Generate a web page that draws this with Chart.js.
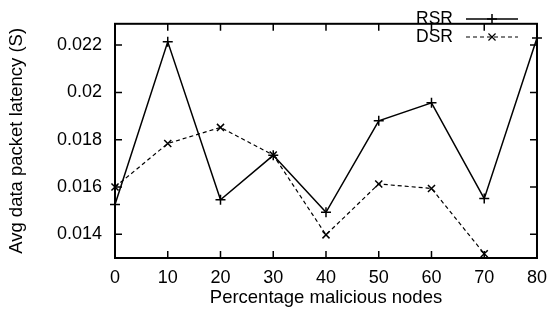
<!DOCTYPE html>
<html lang="en">
<head>
<meta charset="UTF-8">
<title>Avg data packet latency</title>
<script src="https://cdn.jsdelivr.net/npm/chart.js"></script>
<style>
    html, body { margin: 0; padding: 0; background: #fff; }
    #wrap { width: 556px; height: 320px; }
</style>
</head>
<body>
<div id="wrap"><canvas id="latencyChart" width="556" height="320"></canvas></div>
<script>
// values
const percentMalicious = [0, 10, 20, 30, 40, 50, 60, 70, 80];
const rsrLatency = [0.01526, 0.02214, 0.01546, 0.01734, 0.01493, 0.0188, 0.01956, 0.01551, 0.0223];
const dsrLatency = [0.0160, 0.01784, 0.01852, 0.01735, 0.01398, 0.01613, 0.01594, 0.01318, null];
const xTicks = [0, 10, 20, 30, 40, 50, 60, 70, 80];
const yTicks = [0.014, 0.016, 0.018, 0.02, 0.022];

const FONT = '"Liberation Sans", Arial, Helvetica, sans-serif';
Chart.defaults.font.family = FONT;
Chart.defaults.font.size = 18;
Chart.defaults.color = '#000';

function toPoints(xs, ys) {
    return xs.map((x, i) => ({ x: x, y: ys[i] }));
}

// gnuplot style frame with inward ticks on all four sides
const framePlugin = {
    id: 'frame',
    beforeDatasetsDraw(chart) {
        const { ctx, chartArea: a, scales } = chart;
        const len = 7;
        ctx.save();
        ctx.strokeStyle = '#000';
        ctx.lineWidth = 1.5;
        ctx.beginPath();
        xTicks.forEach(v => {
            const px = scales.x.getPixelForValue(v);
            ctx.moveTo(px, a.bottom); ctx.lineTo(px, a.bottom - len);
            ctx.moveTo(px, a.top); ctx.lineTo(px, a.top + len);
        });
        yTicks.forEach(v => {
            const py = scales.y.getPixelForValue(v);
            ctx.moveTo(a.left, py); ctx.lineTo(a.left + len, py);
            ctx.moveTo(a.right, py); ctx.lineTo(a.right - len, py);
        });
        ctx.stroke();
        ctx.lineWidth = 2;
        ctx.strokeRect(a.left, a.top, a.right - a.left, a.bottom - a.top);
        ctx.restore();
    }
};

// key in the top right corner: label, then line sample with marker
const keyPlugin = {
    id: 'key',
    afterDraw(chart) {
        const { ctx } = chart;
        const textRight = 453, x0 = 466, x1 = 518;
        ctx.save();
        chart.data.datasets.forEach((ds, i) => {
            const y = 19 + i * 18;
            ctx.fillStyle = '#000';
            ctx.font = '17.5px ' + FONT;
            ctx.textAlign = 'right';
            ctx.textBaseline = 'middle';
            ctx.fillText(ds.label, textRight, y);
            ctx.strokeStyle = '#000';
            ctx.lineWidth = ds.borderWidth;
            ctx.setLineDash(ds.borderDash || []);
            ctx.beginPath();
            ctx.moveTo(x0, y); ctx.lineTo(x1, y);
            ctx.stroke();
            ctx.setLineDash([]);
            Chart.helpers.drawPoint(ctx, {
                pointStyle: ds.pointStyle, radius: ds.pointRadius,
                borderWidth: ds.pointBorderWidth, rotation: 0
            }, (x0 + x1) / 2, y);
        });
        ctx.restore();
    }
};

const ctx = document.getElementById('latencyChart').getContext('2d');
new Chart(ctx, {
    type: 'line',
    data: {
        datasets: [{
            label: 'RSR',
            data: toPoints(percentMalicious, rsrLatency),
            borderColor: '#000',
            borderWidth: 1.5,
            pointStyle: 'cross',
            pointRadius: 5,
            pointBorderWidth: 1.5,
            pointBorderColor: '#000',
            tension: 0,
            clip: false
        }, {
            label: 'DSR',
            data: toPoints(percentMalicious, dsrLatency),
            borderColor: '#000',
            borderWidth: 1.2,
            borderDash: [4, 3],
            pointStyle: 'crossRot',
            pointRadius: 5,
            pointBorderWidth: 1.5,
            pointBorderColor: '#000',
            tension: 0,
            clip: false
        }]
    },
    options: {
        responsive: false,
        animation: false,
        devicePixelRatio: 1,
        layout: { padding: { top: 2, right: 16, left: 0, bottom: 0 } },
        plugins: {
            legend: { display: false },
            tooltip: { enabled: false }
        },
        scales: {
            x: {
                type: 'linear',
                min: 0,
                max: 80,
                grid: { display: false, drawTicks: false },
                border: { display: false },
                afterBuildTicks: s => { s.ticks = xTicks.map(v => ({ value: v })); },
                afterFit: s => { s.height = 62; },
                ticks: { padding: 9, maxRotation: 0 },
                title: {
                    display: true,
                    text: 'Percentage malicious nodes',
                    padding: { top: 0, bottom: 11 },
                    font: { size: 18.5 }
                }
            },
            y: {
                min: 0.013,
                max: 0.0229,
                grid: { display: false, drawTicks: false },
                border: { display: false },
                afterBuildTicks: s => { s.ticks = yTicks.map(v => ({ value: v })); },
                afterFit: s => { s.width = 115; },
                ticks: {
                    padding: 13,
                    callback: v => String(+v.toFixed(3))
                },
                title: {
                    display: true,
                    text: 'Avg data packet latency (S)',
                    padding: { top: 6, bottom: 0 },
                    font: { size: 18.5 }
                }
            }
        }
    },
    plugins: [framePlugin, keyPlugin]
});
</script>
</body>
</html>
